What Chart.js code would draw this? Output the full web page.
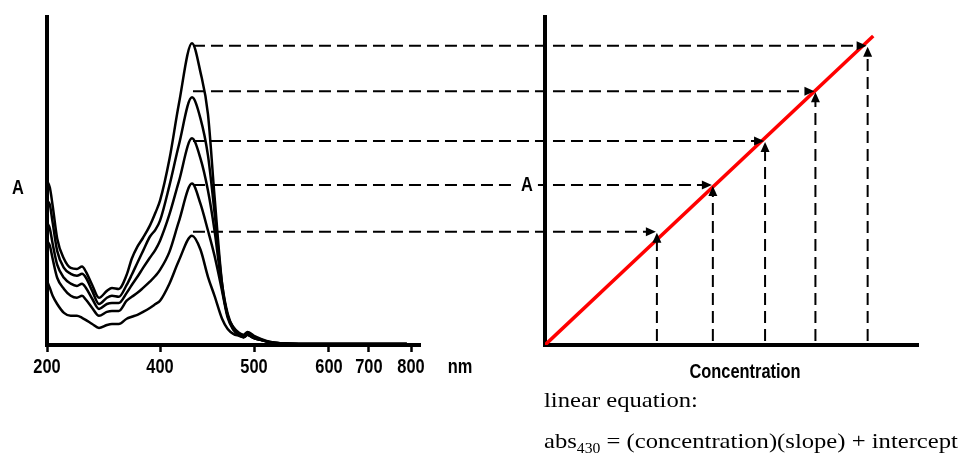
<!DOCTYPE html>
<html>
<head>
<meta charset="utf-8">
<title>Absorbance spectra and calibration line</title>
<script src="https://cdn.jsdelivr.net/npm/chart.js@4.4.0/dist/chart.umd.min.js"></script>
<style>
  html, body { margin: 0; padding: 0; background: #fff; }
  #wrap { position: relative; width: 967px; height: 467px; overflow: hidden; }
  #wrap canvas { position: absolute; left: 0; top: 0; }
  .eq {
    position: absolute; left: 544px; color: #000; white-space: nowrap;
    font-family: 'Liberation Serif', 'Times New Roman', serif; font-size: 22px; line-height: 22px;
    transform: scaleX(1.12); transform-origin: 0 0;
  }
  .eq sub { font-size: 14px; vertical-align: -5px; line-height: 0; }
</style>
</head>
<body>
<div id="wrap">
  <canvas id="spectra" width="967" height="467"></canvas>
  <canvas id="calib" width="967" height="467"></canvas>
  <div class="eq" style="top:389px">linear equation:</div>
  <div class="eq" style="top:430px">abs<sub>430</sub> = (concentration)(slope) + intercept</div>
</div>
<script>
// Wavelength axis tick labels (nm)
const WAVE_TICKS = [200, 400, 500, 600, 700, 800];

// Wavelengths where the spectra were read (nm)
const WAVELENGTHS = [200, 205, 210, 218, 230, 242, 253, 262, 269, 280, 292, 306, 315, 327, 341,
  350, 360, 370, 382, 392, 400, 410, 420, 434, 443, 451, 458, 466, 472, 478, 484, 489, 493,
  500, 510, 522, 535, 560, 600, 700, 790];

// Absorbance spectra, highest concentration first
const ABS_1 = [0.50, 0.48, 0.425, 0.325, 0.263, 0.235, 0.232, 0.239, 0.223, 0.183, 0.144, 0.165, 0.174, 0.171, 0.214,
  0.263, 0.300, 0.327, 0.364, 0.404, 0.440, 0.566, 0.734, 0.920, 0.832, 0.704, 0.453, 0.187, 0.089, 0.055, 0.037, 0.031, 0.040,
  0.028, 0.018, 0.009, 0.005, 0.003, 0.003, 0.003, 0.003];
const ABS_2 = [0.44, 0.428, 0.373, 0.287, 0.235, 0.217, 0.211, 0.217, 0.205, 0.165, 0.125, 0.144, 0.150, 0.147, 0.183,
  0.214, 0.251, 0.287, 0.330, 0.352, 0.379, 0.486, 0.609, 0.755, 0.691, 0.578, 0.404, 0.187, 0.095, 0.052, 0.034, 0.028, 0.034,
  0.024, 0.015, 0.009, 0.005, 0.003, 0.003, 0.003, 0.003];
const ABS_3 = [0.373, 0.355, 0.309, 0.245, 0.205, 0.187, 0.180, 0.187, 0.174, 0.141, 0.110, 0.125, 0.128, 0.128, 0.159,
  0.183, 0.208, 0.235, 0.266, 0.291, 0.318, 0.398, 0.498, 0.630, 0.569, 0.471, 0.349, 0.174, 0.089, 0.049, 0.031, 0.024, 0.031,
  0.021, 0.015, 0.008, 0.005, 0.003, 0.003, 0.003, 0.003];
const ABS_4 = [0.318, 0.303, 0.263, 0.205, 0.171, 0.150, 0.144, 0.150, 0.138, 0.113, 0.089, 0.101, 0.104, 0.104, 0.135,
  0.147, 0.159, 0.174, 0.193, 0.211, 0.229, 0.284, 0.376, 0.492, 0.431, 0.349, 0.272, 0.165, 0.083, 0.046, 0.031, 0.024, 0.031,
  0.021, 0.015, 0.008, 0.005, 0.003, 0.003, 0.003, 0.003];
const ABS_5 = [0.196, 0.174, 0.150, 0.125, 0.098, 0.089, 0.089, 0.083, 0.076, 0.064, 0.052, 0.061, 0.064, 0.064, 0.080,
  0.086, 0.092, 0.101, 0.113, 0.125, 0.135, 0.187, 0.257, 0.333, 0.291, 0.208, 0.150, 0.080, 0.049, 0.034, 0.028, 0.024, 0.031,
  0.021, 0.015, 0.008, 0.005, 0.003, 0.003, 0.003, 0.003];
const SPECTRA = [ABS_1, ABS_2, ABS_3, ABS_4, ABS_5];

const PEAK_NM = 434;

// Calibration: concentration (arbitrary units) vs absorbance at the peak
const CONC = [3.0, 4.5, 5.9, 7.25, 8.65];
const CAL_ABS = [0.345, 0.488, 0.622, 0.774, 0.912];
const FIT_CONC = [0, 8.8];
const FIT_ABS = [0, 0.942];

const SANS = "'Liberation Sans', Arial, sans-serif";
const NARROW = 0.82; // squeeze bold sans text to look like a narrow face
const xy = (xs, ys) => xs.map((x, i) => ({ x: x, y: ys[i] }));

// Linear scale whose ticks sit at set positions along the axis (piecewise)
class WarpScale extends Chart.LinearScale {
  _frac(v) {
    const vs = [this.min, ...this.options.tickValues, this.max];
    const ps = [0, ...this.options.tickPos, 1];
    for (let i = 1; i < vs.length; i++) {
      if (v <= vs[i] || i === vs.length - 1) {
        const span = vs[i] - vs[i - 1];
        return span ? ps[i - 1] + (ps[i] - ps[i - 1]) * (v - vs[i - 1]) / span : ps[i];
      }
    }
    return 0;
  }
  buildTicks() {
    return this.options.tickValues.map(v => ({ value: v }));
  }
  getPixelForValue(value) {
    return value === null ? NaN : this.getPixelForDecimal(this._frac(value));
  }
  getValueForPixel(pixel) {
    const d = this.getDecimalForPixel(pixel);
    const vs = [this.min, ...this.options.tickValues, this.max];
    const ps = [0, ...this.options.tickPos, 1];
    for (let i = 1; i < ps.length; i++) {
      if (d <= ps[i] && ps[i] > ps[i - 1]) {
        return vs[i - 1] + (vs[i] - vs[i - 1]) * (d - ps[i - 1]) / (ps[i] - ps[i - 1]);
      }
    }
    return this.max;
  }
  // draw the tick labels narrowed around their own anchor
  drawLabels(area) {
    const ctx = this.ctx;
    const fill = ctx.fillText;
    ctx.fillText = function(t, x, y, w) {
      this.save();
      this.translate(x, y);
      this.scale(NARROW, 1);
      fill.call(this, t, 0, 0, w);
      this.restore();
    };
    super.drawLabels(area);
    delete ctx.fillText;
  }
}
WarpScale.id = 'warp';
WarpScale.defaults = Chart.LinearScale.defaults;
Chart.register(WarpScale);

function label(ctx, text, x, y, clear) {
  ctx.save();
  ctx.font = 'bold 20px ' + SANS;
  ctx.textAlign = 'center';
  ctx.textBaseline = 'middle';
  if (clear) {
    const w = ctx.measureText(text).width * NARROW + 10;
    ctx.fillStyle = '#fff';
    ctx.fillRect(x - w / 2, y - 10, w, 20);
  }
  ctx.translate(x, y);
  ctx.scale(NARROW, 1);
  ctx.fillStyle = '#000';
  ctx.fillText(text, 0, 0);
  ctx.restore();
}

function arrowHead(ctx, x, y, dir) {
  ctx.beginPath();
  if (dir === 'right') {
    ctx.moveTo(x, y); ctx.lineTo(x - 10, y - 4.5); ctx.lineTo(x - 10, y + 4.5);
  } else {
    ctx.moveTo(x, y); ctx.lineTo(x - 4.5, y + 10); ctx.lineTo(x + 4.5, y + 10);
  }
  ctx.closePath();
  ctx.fill();
}

// Left panel: spectra
const spectraLabels = {
  id: 'spectraLabels',
  afterDraw(chart) {
    label(chart.ctx, 'A', 18, 188);
    label(chart.ctx, 'nm', 460, 367);
  }
};

const spectra = new Chart(document.getElementById('spectra'), {
  type: 'line',
  data: {
    datasets: SPECTRA.map(s => ({
      data: xy(WAVELENGTHS, s),
      borderColor: '#000',
      borderWidth: 2.5,
      pointRadius: 0,
      fill: false,
      cubicInterpolationMode: 'monotone'
    }))
  },
  options: {
    responsive: false,
    animation: false,
    events: [],
    layout: { padding: { left: 47, right: 547, top: 17, bottom: 0 } },
    plugins: { legend: { display: false }, tooltip: { enabled: false } },
    scales: {
      x: {
        type: 'warp',
        min: 200,
        max: 821,
        tickValues: WAVE_TICKS,
        tickPos: [0, 0.303, 0.555, 0.756, 0.863, 0.976],
        afterFit: s => { s.height = 122; },
        border: { display: true, color: '#000', width: 4 },
        grid: { display: true, drawOnChartArea: false, drawTicks: true, tickLength: 7, tickWidth: 2.5, tickColor: '#000' },
        ticks: {
          autoSkip: false, maxRotation: 0, padding: 3, color: '#000',
          font: { family: SANS, size: 20, weight: 'bold' },
          callback: v => String(v)
        }
      },
      y: {
        min: 0,
        max: 1,
        afterFit: s => { s.width = 0; },
        border: { display: true, color: '#000', width: 4 },
        grid: { display: false },
        ticks: { display: false }
      }
    }
  },
  plugins: [spectraLabels]
});

// Right panel: calibration line with the guide arrows
const guideArrows = {
  id: 'guideArrows',
  afterDatasetsDraw(chart) {
    const ctx = chart.ctx;
    const startX = spectra.scales.x.getPixelForValue(PEAK_NM) + 1;
    const baseY = chart.scales.y.getPixelForValue(0) - 4;
    const pts = chart.getDatasetMeta(1).data;
    ctx.save();
    ctx.strokeStyle = '#000';
    ctx.fillStyle = '#000';
    ctx.lineWidth = 2;
    ctx.setLineDash([12, 6]);
    pts.forEach(p => {
      ctx.beginPath();
      ctx.moveTo(startX, p.y);
      ctx.lineTo(p.x - 10, p.y);
      ctx.moveTo(p.x, baseY);
      ctx.lineTo(p.x, p.y + 10);
      ctx.stroke();
    });
    ctx.setLineDash([]);
    pts.forEach(p => {
      arrowHead(ctx, p.x - 1, p.y, 'right');
      arrowHead(ctx, p.x, p.y + 1, 'up');
    });
    ctx.restore();
  },
  afterDraw(chart) {
    label(chart.ctx, 'A', 527, 185, true);
    label(chart.ctx, 'Concentration', 745, 372);
  }
};

const calib = new Chart(document.getElementById('calib'), {
  type: 'line',
  data: {
    datasets: [
      {
        data: xy(FIT_CONC, FIT_ABS),
        borderColor: '#ff0000',
        borderWidth: 3.5,
        pointRadius: 0,
        fill: false
      },
      {
        data: xy(CONC, CAL_ABS),
        showLine: false,
        pointRadius: 0
      }
    ]
  },
  options: {
    responsive: false,
    animation: false,
    events: [],
    layout: { padding: { left: 545, right: 49, top: 17, bottom: 0 } },
    plugins: { legend: { display: false }, tooltip: { enabled: false } },
    scales: {
      x: {
        type: 'linear',
        min: 0,
        max: 10,
        afterFit: s => { s.height = 122; },
        border: { display: true, color: '#000', width: 4 },
        grid: { display: false },
        ticks: { display: false }
      },
      y: {
        min: 0,
        max: 1,
        afterFit: s => { s.width = 0; },
        border: { display: true, color: '#000', width: 4 },
        grid: { display: false },
        ticks: { display: false }
      }
    }
  },
  plugins: [guideArrows]
});
</script>
</body>
</html>
